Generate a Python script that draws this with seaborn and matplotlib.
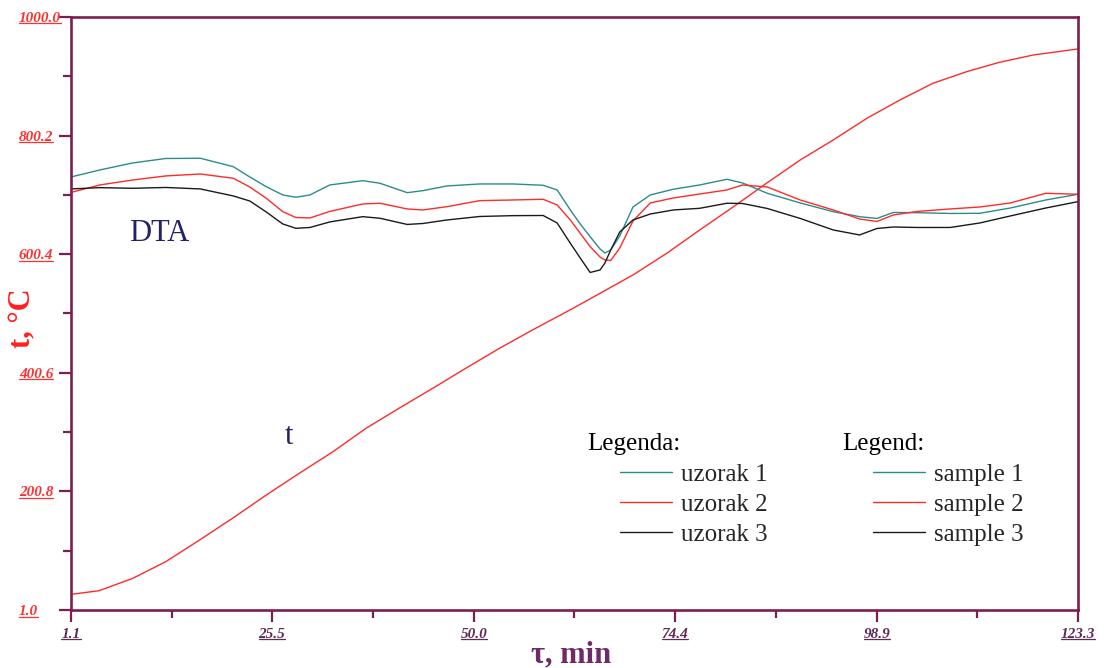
import seaborn as sns
import matplotlib.pyplot as plt
import pandas as pd
from matplotlib.lines import Line2D
from matplotlib.transforms import IdentityTransform

sns.set_theme(style="white")
plt.rcParams['font.family'] = ['Liberation Serif', 'DejaVu Serif']

# krivulja temperature t (°C) u ovisnosti o vremenu (min)
t_time = [1.1, 4.5, 8.6, 12.6, 16.7, 20.7, 24.8, 28.8, 32.9, 36.9, 40.9, 45.0, 49.0,
          53.1, 57.1, 62.0, 65.3, 69.3, 73.4, 77.4, 81.5, 85.5, 89.6, 93.6, 97.7,
          101.7, 105.7, 109.8, 113.8, 117.9, 123.3]
t_temp = [27.4, 33.5, 54.4, 82.4, 118.9, 155.5, 194.7, 231.3, 267.7, 307.1, 340.8,
          374.5, 408.2, 441.9, 472.7, 509.0, 534.5, 565.4, 601.9, 641.2, 680.4, 719.9,
          759.1, 792.8, 829.4, 860.2, 888.3, 907.9, 923.7, 936.0, 946.1]

# DTA krivulje
dta_time = [1.1, 4.6, 8.6, 12.6, 16.8, 20.8, 22.8, 24.8, 26.8, 28.4, 30.1, 32.5, 36.5,
            38.6, 41.9, 43.8, 46.7, 50.7, 54.7, 58.4, 60.1, 61.7, 62.9, 64.1, 65.3,
            65.9, 66.6, 67.7, 69.3, 71.4, 74.2, 77.4, 80.7, 82.6, 85.6, 89.6, 93.6,
            96.8, 98.9, 100.9, 103.8, 107.8, 111.4, 115.1, 119.4, 123.3]
sample1 = [730.5, 742.3, 754.1, 761.6, 762.0, 747.8, 730.5, 714.1, 700.2, 696.3, 700.2,
           717.0, 724.2, 719.9, 704.0, 707.4, 715.3, 718.7, 718.7, 716.5, 708.6, 674.9,
           651.3, 629.9, 609.2, 602.4, 607.5, 631.1, 679.9, 700.2, 709.8, 717.0, 726.6,
           720.4, 703.0, 686.7, 672.0, 663.6, 660.6, 670.7, 670.3, 669.0, 669.3, 678.2,
           691.7, 701.3]
sample2 = [704.4, 717.0, 725.4, 732.2, 735.5, 728.3, 713.6, 694.6, 672.0, 662.2, 661.4,
           672.4, 685.0, 686.2, 676.6, 674.9, 680.4, 690.6, 691.7, 692.9, 683.3, 658.0,
           635.6, 613.1, 595.7, 590.6, 589.8, 610.9, 656.3, 686.7, 695.1, 701.8, 708.6,
           717.0, 713.6, 691.7, 674.9, 659.7, 655.5, 666.5, 672.4, 676.6, 679.9, 686.7,
           703.0, 701.3]
sample3 = [710.3, 712.5, 711.4, 712.8, 710.3, 698.5, 690.0, 671.5, 651.3, 644.0, 645.4,
           654.7, 663.6, 660.9, 650.5, 652.1, 658.0, 663.9, 665.3, 665.6, 653.0, 618.8,
           594.0, 569.6, 573.8, 585.6, 607.5, 637.8, 658.0, 668.1, 674.9, 677.7, 686.2,
           685.8, 677.4, 660.6, 641.2, 632.8, 643.7, 646.2, 645.4, 645.4, 653.0, 664.8,
           678.2, 688.9]

labels_hr = ["uzorak 1", "uzorak 2", "uzorak 3"]
labels_en = ["sample 1", "sample 2", "sample 3"]
colors = ["#2b8c8c", "#ff2a2a", "#1a1a1a"]

x_ticks = [1.1, 25.5, 50.0, 74.4, 98.9, 123.3]
y_ticks = [1.0, 200.8, 400.6, 600.4, 800.2, 1000.0]

frame = "#7a1f4f"
red = "#ff3030"
purple = "#5e2a55"

fig = plt.figure(figsize=(11.09, 6.68), dpi=100)
ax = fig.add_axes([0.064, 0.0868, 0.908, 0.8878])

sns.lineplot(x=t_time, y=t_temp, ax=ax, color="#ff2a2a", lw=1.0)
dta = pd.DataFrame({"time": dta_time, "s1": sample1, "s2": sample2, "s3": sample3})
handles = []
for col, c in zip(["s1", "s2", "s3"], colors):
    sns.lineplot(data=dta, x="time", y=col, ax=ax, color=c, lw=1.0)
    handles.append(Line2D([], [], color=c, lw=1.0))

ax.set_xlim(x_ticks[0], x_ticks[-1])
ax.set_ylim(y_ticks[0], y_ticks[-1])
ax.set_xlabel("")
ax.set_ylabel("")

ax.set_xticks(x_ticks, labels=[f"{v:.1f}" for v in x_ticks])
ax.set_yticks(y_ticks, labels=[f"{v:.1f}" for v in y_ticks])
ax.set_xticks([(a + b) / 2 for a, b in zip(x_ticks[:-1], x_ticks[1:])], minor=True)
ax.set_yticks([(a + b) / 2 for a, b in zip(y_ticks[:-1], y_ticks[1:])], minor=True)

ax.tick_params(which="both", direction="out", color=frame, width=1.6,
               bottom=True, left=True, top=False, right=False)
ax.tick_params(which="major", length=8.6)
ax.tick_params(which="minor", length=5.5)
ax.tick_params(axis="x", which="major", pad=4, labelcolor=purple)
ax.tick_params(axis="y", which="major", pad=29, labelcolor=red)
for lab in ax.get_xticklabels() + ax.get_yticklabels():
    lab.set_fontsize(11)
    lab.set_fontweight("bold")
    lab.set_fontstyle("italic")
for lab in ax.get_yticklabels():
    lab.set_ha("left")

for s in ax.spines.values():
    s.set_color(frame)
    s.set_linewidth(1.9)

ax.text(0.058, 0.635, "DTA", transform=ax.transAxes, fontsize=22, color="#222266",
        ha="left", va="center")
ax.text(0.212, 0.292, "t", transform=ax.transAxes, fontsize=22, color="#222266",
        ha="left", va="center")

ax.text(0.513, 0.27, "Legenda:", transform=ax.transAxes, fontsize=18, color="black",
        va="baseline")
ax.text(0.766, 0.27, "Legend:", transform=ax.transAxes, fontsize=18, color="black",
        va="baseline")
leg_kw = dict(loc="upper left", frameon=False, fontsize=18, handlelength=2.1,
              handletextpad=0.35, labelspacing=0.3, borderpad=0, borderaxespad=0)
leg1 = ax.legend(handles, labels_hr, bbox_to_anchor=(0.545, 0.247), **leg_kw)
ax.add_artist(leg1)
ax.legend(handles, labels_en, bbox_to_anchor=(0.796, 0.247), **leg_kw)

fig.text(571 / 1109, 1 - 655 / 668, "τ, min", fontsize=22, fontweight="bold",
         color="#702a68", ha="center", va="center")
fig.text(23 / 1109, 1 - 318 / 668, "t, °C", fontsize=22, fontweight="bold",
         color="#ff2020", ha="center", va="center", rotation=90)

# podcrtane oznake na osima
fig.canvas.draw()
renderer = fig.canvas.get_renderer()
for lab in ax.get_xticklabels() + ax.get_yticklabels():
    if not lab.get_text() or not lab.get_visible():
        continue
    bb = lab.get_window_extent(renderer)
    fig.add_artist(Line2D([bb.x0, bb.x1], [bb.y0 + 1.5, bb.y0 + 1.5],
                          transform=IdentityTransform(), color=lab.get_color(), lw=0.9))

fig.savefig("out.png", dpi=100)
